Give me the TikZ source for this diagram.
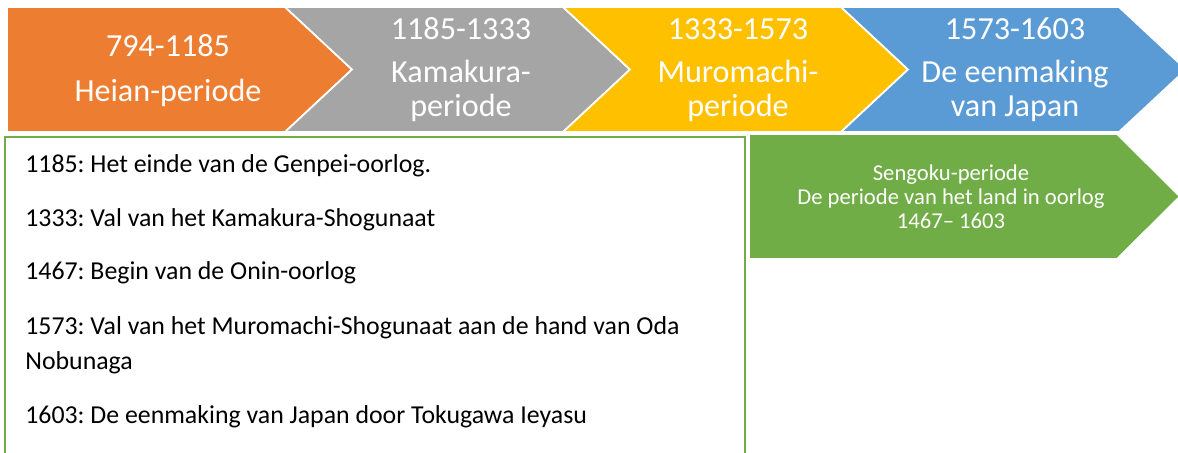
\documentclass[tikz,border=0pt]{standalone}
\usepackage{fontspec}
\setmainfont{Carlito}
\usetikzlibrary{positioning}
\definecolor{heian}{HTML}{ED7D31}
\definecolor{kamakura}{HTML}{A5A5A5}
\definecolor{muromachi}{HTML}{FFC000}
\definecolor{eenmaking}{HTML}{5B9BD5}
\definecolor{sengoku}{HTML}{70AD47}
\frenchspacing

\begin{document}
\begin{tikzpicture}[x=0.02cm, y=-0.02cm, era/.style={draw=white, line width=1pt}, yr/.style={text=white, align=center, font=\fontsize{18.3}{19.5}\selectfont}, evt/.style={anchor=west, align=left, inner sep=0pt, font=\fontsize{14.7}{20}\selectfont}]
		\useasboundingbox (0,0) rectangle (1178,453);
		\clip (0,0) rectangle (1178,453);
		% tijdbalk
		\fill[heian, era] (7,7) -- (285,7) -- (352,69.5) -- (285,132) -- (7,132) -- cycle;
		\foreach \x/\c in {285/kamakura, 563/muromachi, 841/eenmaking}
			\fill[\c, era] (\x,7) -- ++(278,0) -- ++(67,62.5) -- ++(-67,62.5) -- ++(-278,0) -- ++(67,-62.5) -- cycle;
		\fill[sengoku, era] (749,134) -- (1117,134) -- (1180,196.5) -- (1117,259) -- (749,259) -- cycle;
		\draw[sengoku, line width=1.2pt] (5,137) rectangle (745,470);
		% perioden
		\node[yr] (heianYr) at (168,46) {794-1185};
		\node[yr] (heianNm) at (168,93) {Heian-periode};
		\node[yr] (kamaYr) at (461,29) {1185-1333};
		\node[yr] (kamaNm) at (461,91) {Kamakura-\\periode};
		\node[yr] (muroYr) at (738,29) {1333-1573};
		\node[yr] (muroNm) at (738,91) {Muromachi-\\periode};
		\node[yr] (eenYr) at (1015,29) {1573-1603};
		\node[yr] (eenNm) at (1015,91) {De eenmaking\\van Japan};
		\node[text=white, align=center, font=\fontsize{12.9}{13.7}\selectfont] (sengokuNm) at (951,197) {Sengoku-periode\\De periode van het land in oorlog\\1467-- 1603};
		% gebeurtenissen
		\node[evt] (ev1185) at (25,166) {1185: Het einde van de Genpei-oorlog.};
		\node[evt] (ev1333) at (25,220) {1333: Val van het Kamakura-Shogunaat};
		\node[evt] (ev1467) at (25,273) {1467: Begin van de Onin-oorlog};
		\node[evt] (ev1573) at (25,345.5) {1573: Val van het Muromachi-Shogunaat aan de hand van Oda\\Nobunaga};
		\node[evt] (ev1603) at (25,417) {1603: De eenmaking van Japan door Tokugawa Ieyasu};
	\end{tikzpicture}
\end{document}
